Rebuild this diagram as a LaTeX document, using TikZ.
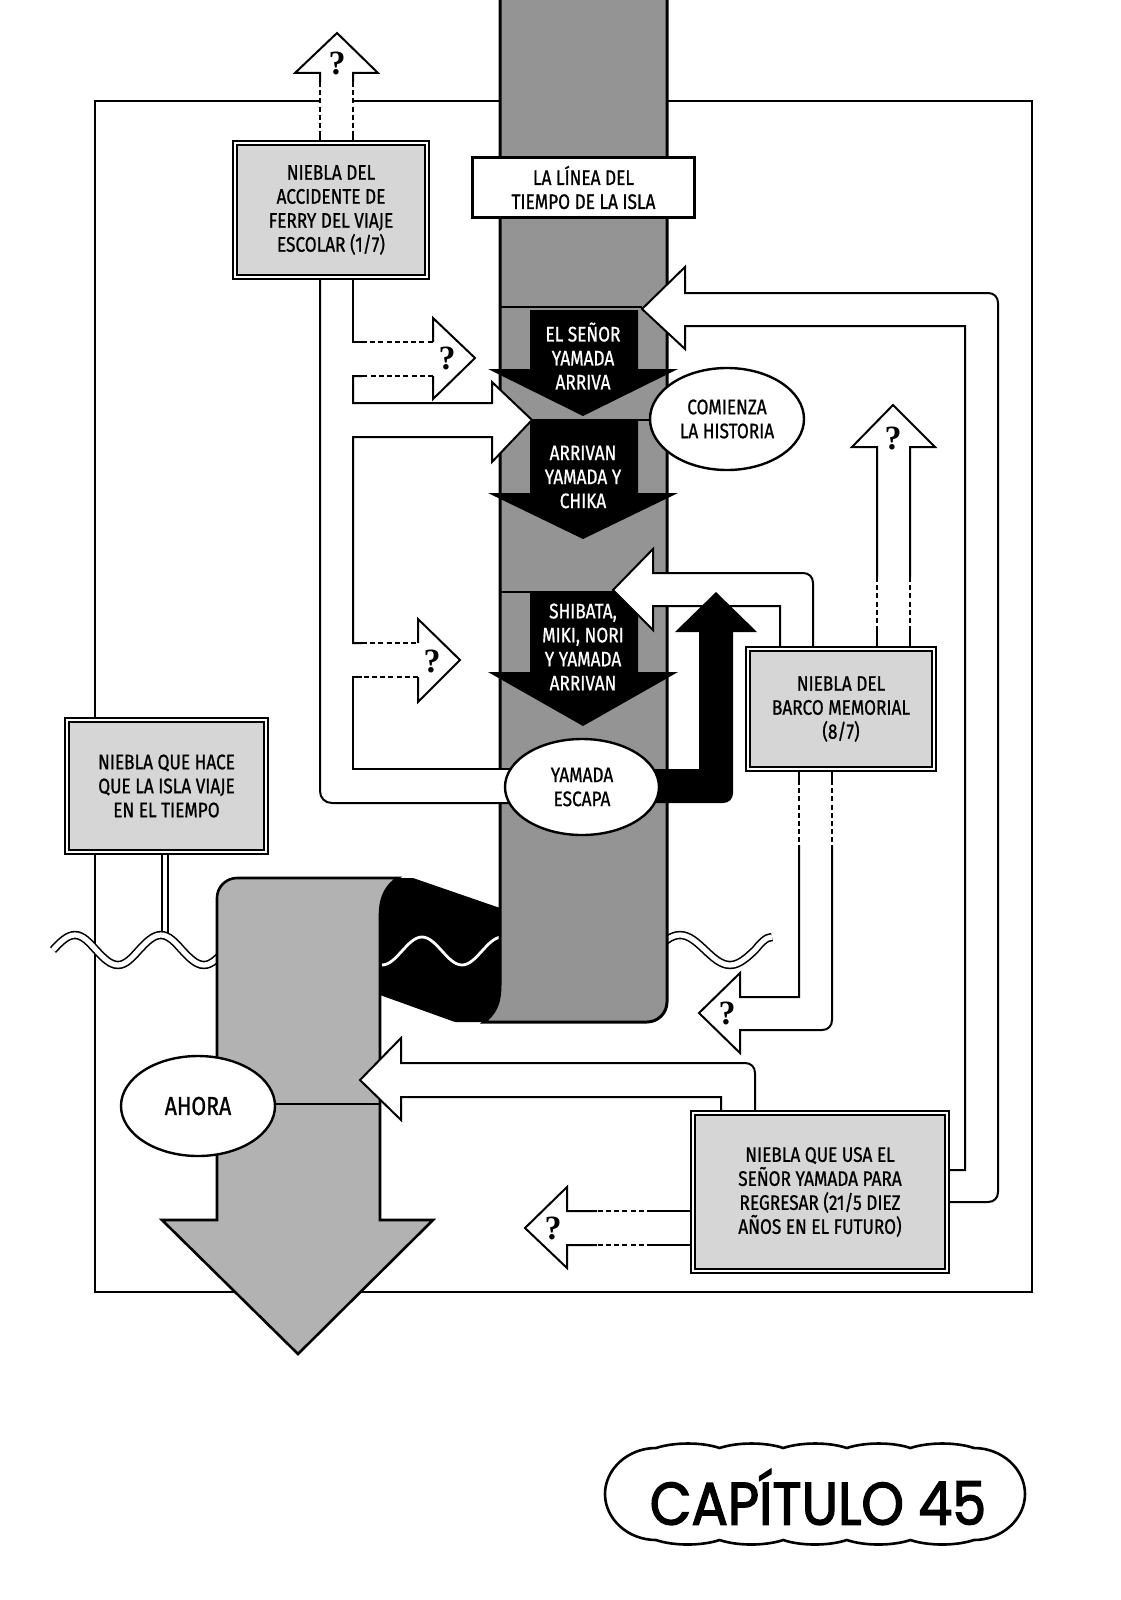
\documentclass[tikz,border=0pt]{standalone}
\usepackage{fontspec}
\usepackage{tikz}
\usetikzlibrary{shapes.geometric}
\newfontfamily\comic{Fira Sans}[FakeStretch=0.82, FakeBold=0.9]
\newfontfamily\titlefont{Poppins}[FakeStretch=0.9, FakeBold=2.2]
\newfontfamily\qfont{Liberation Serif}
\colorlet{coltone}{black!42}
\colorlet{bandtone}{black!30}
\colorlet{boxtone}{black!16}

\begin{document}
\begin{tikzpicture}[x=0.5pt, y=-0.5pt,
  txt/.style={font=\comic\fontsize{10.5}{12}\selectfont, align=center},
  fogbox/.style={txt, draw, fill=boxtone, line width=0.7pt, double, double distance=1.3pt, inner sep=0pt},
  bubble/.style={txt, ellipse, draw, fill=white, line width=1.2pt, inner sep=0pt},
  pipe/.style={line width=1pt},
  pipedash/.style={line width=1pt, dash pattern=on 2.5pt off 1.6pt},
  qmark/.style={font=\qfont\bfseries\fontsize{17}{17}\selectfont, inner sep=0pt},
  wave/.style={double=white, double distance=2.6pt, line width=0.8pt}]
\useasboundingbox (0,0) rectangle (1120,1600);
\fill[white] (0,0) rectangle (1120,1600);
\draw[line width=1.3pt] (95,101) rectangle (1032,1292);
\draw[line width=0.7pt, fill=white] (162,850) rectangle (168,936);
\draw[wave] (53,950) sin (75,935) cos (96,950) sin (118,965) cos (139,950) sin (161,935) cos (182,950) sin (204,965) cos (225,950);
\draw[wave] (655,950) sin (680,935) cos (705,950) sin (730,965) cos (755,950) sin (772,937);
\fill (392,878) -- (413,878) -- (500,908) -- (500,1022) -- (455,1022) -- (380,995) -- (380,905) -- cycle;
\draw[white, line width=1.4pt] (382,965) cos (402,951) sin (422,937) cos (442,951) sin (462,965) cos (482,951) sin (502,937);
\draw[line width=1.3pt, fill=bandtone] (217,1220) -- (217,898) .. controls (217,887) and (226,878) .. (237,878) -- (398,878) .. controls (388,884) and (380,895) .. (380,915) -- (380,1220) -- (433,1220) -- (298,1354) -- (162,1220) -- cycle;
\draw[line width=1.3pt] (217,1104) -- (380,1104);
\draw[line width=1.5pt, fill=coltone] (500,-2) -- (500,985) .. controls (500,1005) and (494,1014) .. (484,1022) -- (647,1022) .. controls (658,1022) and (667,1013) .. (667,1002) -- (667,-2);
\foreach \y/\xa/\xb in {307/500/642, 420/500/667, 592/500/613}
  \draw[line width=1.3pt] (\xa,\y) -- (\xb,\y);
\foreach \t/\b/\p in {310/369/416, 420/493/539, 592/672/726}
  \fill (530,\t) -- (638,\t) -- (638,\b) -- (678,\b) -- (583,\p) -- (488,\b) -- (530,\b) -- cycle;
\fill[white] (320,277) -- (320,791) .. controls (320,798) and (325,803) .. (332,803) -- (512,803) -- (512,769) -- (353,769) -- (353,677) -- (418,677) -- (418,702) -- (460,660) -- (418,619) -- (418,643) -- (353,643) -- (353,437) -- (492,437) -- (492,462) -- (532,420) -- (492,382) -- (492,403) -- (353,403) -- (353,376) -- (433,376) -- (433,399) -- (475,358) -- (433,318) -- (433,342) -- (353,342) -- (353,277) -- cycle;
\draw[pipe] (320,277) -- (320,791) .. controls (320,798) and (325,803) .. (332,803) -- (512,803);
\draw[pipe] (353,277) -- (353,342) -- (362,342);
\draw[pipedash] (362,342) -- (433,342);
\draw[pipe] (433,342) -- (433,318) -- (475,358) -- (433,399) -- (433,376);
\draw[pipedash] (433,376) -- (362,376);
\draw[pipe] (362,376) -- (353,376) -- (353,403) -- (492,403) -- (492,382) -- (532,420) -- (492,462) -- (492,437) -- (353,437) -- (353,643) -- (362,643);
\draw[pipedash] (362,643) -- (418,643);
\draw[pipe] (418,643) -- (418,619) -- (460,660) -- (418,702) -- (418,677);
\draw[pipedash] (418,677) -- (362,677);
\draw[pipe] (362,677) -- (353,677) -- (353,769) -- (512,769);
\node[qmark] (q1) at (447,358) {?};
\node[qmark] (q3) at (432,661) {?};
\fill[white] (320,143) -- (320,73) -- (295,73) -- (337,33) -- (378,73) -- (353,73) -- (353,143) -- cycle;
\draw[pipe] (320,82) -- (320,73) -- (295,73) -- (337,33) -- (378,73) -- (353,73) -- (353,82);
\draw[pipedash] (320,82) -- (320,136) (353,82) -- (353,136);
\draw[pipe] (320,136) -- (320,143) (353,136) -- (353,143);
\node[qmark] (q0) at (337,63) {?};
\draw[pipe, fill=white] (947,1202) -- (988,1202) .. controls (994,1202) and (998,1198) .. (998,1192) -- (998,303) .. controls (998,297) and (994,293) .. (988,293) -- (685,293) -- (685,267) -- (642,309) -- (685,349) -- (685,326) -- (965,326) -- (965,1170) -- (947,1170);
\draw[pipe, fill=white] (813,649) -- (813,583) .. controls (813,577) and (809,573) .. (803,573) -- (653,573) -- (653,549) -- (613,590) -- (653,630) -- (653,606) -- (780,606) -- (780,649);
\fill (640,769) -- (699,769) -- (699,632) -- (675,632) -- (716,592) -- (757,632) -- (733,632) -- (733,793) .. controls (733,799) and (729,803) .. (723,803) -- (640,803) -- cycle;
\draw[pipe] (877,577) -- (877,447) -- (852,447) -- (893,405) -- (935,447) -- (910,447) -- (910,577);
\draw[pipedash] (877,577) -- (877,630) (910,577) -- (910,630);
\draw[pipe] (877,630) -- (877,649) (910,630) -- (910,649);
\node[qmark] (q4) at (893,438) {?};
\draw[pipe] (799,769) -- (799,780) (832,769) -- (832,780);
\draw[pipedash] (799,780) -- (799,845) (832,780) -- (832,845);
\draw[pipe] (799,845) -- (799,997) -- (740,997) -- (740,973) -- (699,1013) -- (740,1053) -- (740,1030) -- (822,1030) .. controls (828,1030) and (832,1026) .. (832,1020) -- (832,845);
\node[qmark] (q5) at (727,1013) {?};
\draw[pipe, fill=white] (755,1113) -- (755,1073) .. controls (755,1067) and (751,1063) .. (745,1063) -- (401,1063) -- (401,1038) -- (360,1080) -- (401,1120) -- (401,1097) -- (721,1097) -- (721,1113);
\draw[pipe] (693,1211) -- (652,1211) (693,1245) -- (652,1245);
\draw[pipedash] (652,1211) -- (597,1211) (652,1245) -- (597,1245);
\draw[pipe] (597,1211) -- (567,1211) -- (567,1187) -- (525,1228) -- (567,1268) -- (567,1245) -- (597,1245);
\node[qmark] (q6) at (553,1228) {?};
\node[fogbox, minimum width=96pt, minimum height=67pt] (ferry) at (331,210) {NIEBLA DEL\\ACCIDENTE DE\\FERRY DEL VIAJE\\ESCOLAR (1/7)};
\node[fogbox, minimum width=99.5pt, minimum height=66pt] (isla) at (166.5,786) {NIEBLA QUE HACE\\QUE LA ISLA VIAJE\\EN EL TIEMPO};
\node[fogbox, minimum width=93pt, minimum height=60pt] (barco) at (841,709) {NIEBLA DEL\\BARCO MEMORIAL\\(8/7)};
\node[fogbox, minimum width=127pt, minimum height=79pt] (regreso) at (820,1192) {NIEBLA QUE USA EL\\SEÑOR YAMADA PARA\\REGRESAR (21/5 DIEZ\\AÑOS EN EL FUTURO)};
\node[txt, draw, fill=white, line width=1.8pt, minimum width=111pt, minimum height=30pt, inner sep=0pt] (linea) at (583.5,187.5) {LA LÍNEA DEL\\TIEMPO DE LA ISLA};
\node[bubble, minimum width=77pt, minimum height=51pt] (comienza) at (727,419) {COMIENZA\\LA HISTORIA};
\node[bubble, minimum width=77pt, minimum height=48pt] (escapa) at (582,787) {YAMADA\\ESCAPA};
\node[bubble, minimum width=77pt, minimum height=50pt, font=\comic\fontsize{13}{14}\selectfont] (ahora) at (198,1106) {AHORA};
\node[txt, text=white] (senor) at (583,356) {EL SEÑOR\\YAMADA\\ARRIVA};
\node[txt, text=white] (chika) at (583,477) {ARRIVAN\\YAMADA Y\\CHIKA};
\node[txt, text=white] (shibata) at (583,647) {SHIBATA,\\MIKI, NORI\\Y YAMADA\\ARRIVAN};
\draw[line width=1.3pt, fill=white] (656,1540) .. controls (628,1540) and (605,1519) .. (605,1494) .. controls (605,1469) and (628,1448) .. (656,1448)
  \foreach \i in {0,...,4} { .. controls ({656+63.6*\i+18},1442) and ({656+63.6*\i+46},1442) .. ({656+63.6*(\i+1)},1448) }
  .. controls (1002,1448) and (1025,1469) .. (1025,1494) .. controls (1025,1519) and (1002,1540) .. (974,1540)
  \foreach \i in {0,...,4} { .. controls ({974-63.6*\i-18},1546) and ({974-63.6*\i-46},1546) .. ({974-63.6*(\i+1)},1540) }
  -- cycle;
\node[font=\titlefont\fontsize{30}{30}\selectfont] (capitulo) at (818,1497) {CAPÍTULO 45};
\end{tikzpicture}
\end{document}
